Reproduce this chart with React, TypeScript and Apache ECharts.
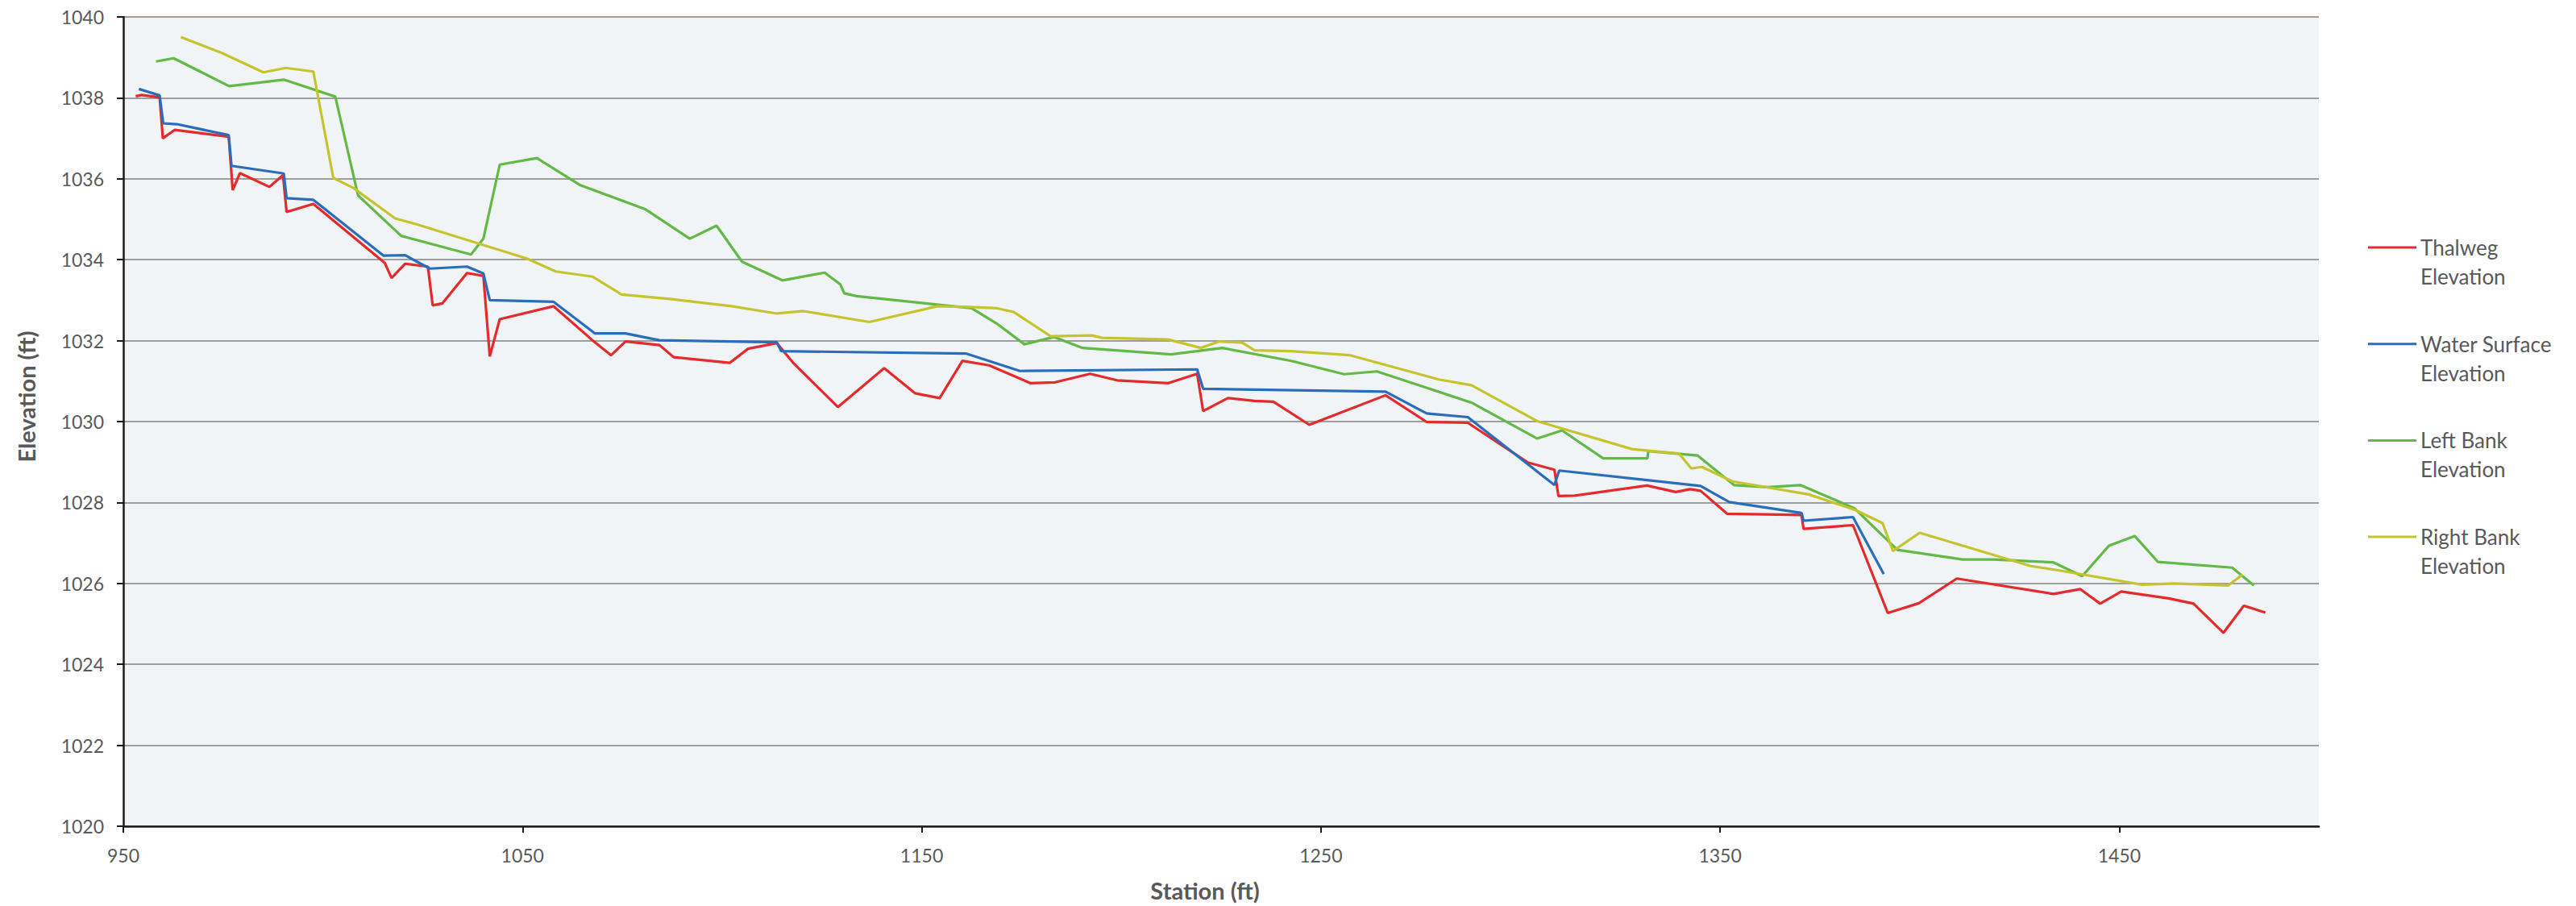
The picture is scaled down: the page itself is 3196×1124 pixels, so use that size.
import React, { useEffect, useRef } from "react";
import * as echarts from "echarts";

const xTickValues = [950, 1050, 1150, 1250, 1350, 1450];
const yTickValues = [1020, 1022, 1024, 1026, 1028, 1030, 1032, 1034, 1036, 1038, 1040];

const seriesNames = [
  "Thalweg Elevation",
  "Water Surface Elevation",
  "Left Bank Elevation",
  "Right Bank Elevation",
];
const legendLabels = [
  "Thalweg\nElevation",
  "Water Surface\nElevation",
  "Left Bank\nElevation",
  "Right Bank\nElevation",
];
const seriesColors = ["#E42A2A", "#2A6EBB", "#62B946", "#C6C42E"];

const thalwegStation = [953.1, 954.6, 959.1, 959.9, 962.9, 976.4, 977.4, 979.2, 986.6, 990.0, 990.9, 997.6, 1015.5, 1017.2, 1020.6, 1026.3, 1027.5, 1029.9, 1036.1, 1040.2, 1041.8, 1044.3, 1057.8, 1068.1, 1072.2, 1075.8, 1084.3, 1087.9, 1101.9, 1106.5, 1113.7, 1118.0, 1129.0, 1140.6, 1148.3, 1154.5, 1160.2, 1166.9, 1177.2, 1183.4, 1192.2, 1198.9, 1211.8, 1219.0, 1220.5, 1226.7, 1233.4, 1238.1, 1247.1, 1266.2, 1276.5, 1286.8, 1301.8, 1308.5, 1309.5, 1313.6, 1331.7, 1338.9, 1342.5, 1345.1, 1351.8, 1370.4, 1370.9, 1383.3, 1392.0, 1399.8, 1409.3, 1433.5, 1440.2, 1445.2, 1450.5, 1462.4, 1468.6, 1476.1, 1481.2, 1486.6];
const thalwegElev = [1038.04, 1038.07, 1038.01, 1037.0, 1037.21, 1037.04, 1035.72, 1036.14, 1035.8, 1036.09, 1035.18, 1035.38, 1033.92, 1033.55, 1033.9, 1033.83, 1032.87, 1032.92, 1033.67, 1033.6, 1031.61, 1032.53, 1032.85, 1031.96, 1031.64, 1031.98, 1031.89, 1031.59, 1031.45, 1031.8, 1031.94, 1031.43, 1030.36, 1031.32, 1030.7, 1030.58, 1031.5, 1031.39, 1030.95, 1030.97, 1031.18, 1031.02, 1030.95, 1031.18, 1030.26, 1030.58, 1030.51, 1030.49, 1029.92, 1030.65, 1029.99, 1029.97, 1028.99, 1028.81, 1028.16, 1028.17, 1028.42, 1028.26, 1028.33, 1028.29, 1027.72, 1027.69, 1027.35, 1027.44, 1025.27, 1025.51, 1026.12, 1025.74, 1025.86, 1025.5, 1025.8, 1025.63, 1025.5, 1024.78, 1025.45, 1025.28];

const waterStation = [953.9, 959.1, 960.0, 963.4, 976.4, 977.1, 990.2, 990.9, 997.6, 1015.2, 1020.6, 1026.8, 1036.1, 1040.2, 1041.8, 1057.8, 1068.1, 1075.8, 1084.3, 1113.7, 1114.8, 1161.2, 1174.6, 1219.0, 1220.5, 1266.2, 1276.5, 1286.8, 1308.5, 1309.7, 1345.1, 1352.3, 1370.4, 1370.9, 1383.3, 1391.0];
const waterElev = [1038.22, 1038.06, 1037.37, 1037.35, 1037.08, 1036.32, 1036.13, 1035.52, 1035.48, 1034.1, 1034.11, 1033.78, 1033.83, 1033.66, 1033.0, 1032.96, 1032.18, 1032.18, 1032.01, 1031.96, 1031.74, 1031.68, 1031.25, 1031.29, 1030.81, 1030.74, 1030.2, 1030.11, 1028.43, 1028.79, 1028.41, 1028.01, 1027.74, 1027.55, 1027.64, 1026.23];

const leftBankStation = [958.2, 962.6, 976.5, 990.2, 1003.1, 1008.8, 1019.6, 1037.1, 1040.2, 1044.3, 1053.6, 1064.5, 1080.7, 1091.9, 1098.6, 1105.0, 1115.1, 1125.7, 1129.6, 1130.6, 1133.7, 1162.5, 1168.7, 1175.7, 1183.1, 1190.3, 1212.5, 1225.3, 1242.6, 1255.8, 1264.0, 1287.7, 1304.2, 1310.4, 1320.7, 1331.8, 1332.0, 1344.4, 1353.5, 1361.9, 1370.1, 1383.6, 1394.4, 1410.8, 1418.5, 1433.5, 1440.7, 1447.4, 1453.9, 1459.7, 1478.3, 1483.7];
const leftBankElev = [1038.9, 1038.98, 1038.29, 1038.45, 1038.03, 1035.59, 1034.59, 1034.13, 1034.52, 1036.35, 1036.51, 1035.84, 1035.25, 1034.52, 1034.84, 1033.95, 1033.49, 1033.68, 1033.39, 1033.17, 1033.1, 1032.8, 1032.43, 1031.91, 1032.09, 1031.82, 1031.66, 1031.82, 1031.5, 1031.17, 1031.24, 1030.47, 1029.58, 1029.78, 1029.09, 1029.09, 1029.27, 1029.16, 1028.43, 1028.38, 1028.43, 1027.86, 1026.83, 1026.59, 1026.59, 1026.52, 1026.18, 1026.93, 1027.17, 1026.53, 1026.39, 1025.95];

const rightBankStation = [964.4, 974.7, 985.1, 990.7, 997.6, 1002.6, 1007.7, 1018.1, 1023.3, 1051.1, 1058.3, 1067.6, 1074.8, 1086.9, 1102.4, 1113.7, 1120.4, 1136.9, 1154.0, 1162.2, 1168.9, 1173.0, 1182.3, 1192.6, 1195.2, 1211.7, 1219.9, 1224.6, 1230.3, 1233.4, 1242.4, 1257.3, 1279.5, 1287.7, 1304.2, 1327.9, 1339.7, 1342.8, 1345.4, 1353.1, 1372.2, 1384.0, 1390.7, 1393.3, 1400.0, 1427.8, 1435.0, 1455.7, 1463.9, 1477.3, 1480.9];
const rightBankElev = [1039.5, 1039.11, 1038.63, 1038.74, 1038.65, 1036.02, 1035.77, 1035.02, 1034.88, 1034.03, 1033.71, 1033.58, 1033.14, 1033.03, 1032.85, 1032.67, 1032.73, 1032.46, 1032.85, 1032.83, 1032.8, 1032.71, 1032.11, 1032.13, 1032.07, 1032.03, 1031.82, 1031.98, 1031.95, 1031.76, 1031.74, 1031.64, 1031.04, 1030.9, 1030.01, 1029.32, 1029.21, 1028.84, 1028.88, 1028.52, 1028.2, 1027.81, 1027.49, 1026.8, 1027.25, 1026.43, 1026.32, 1025.97, 1026.0, 1025.95, 1026.22];

const stations = [thalwegStation, waterStation, leftBankStation, rightBankStation];
const elevations = [thalwegElev, waterElev, leftBankElev, rightBankElev];

const FONT = "Lato, 'Open Sans', sans-serif";
const TEXT_COLOR = "#595959";

export default function App() {
  const ref = useRef<HTMLDivElement>(null);

  useEffect(() => {
    if (!ref.current) return;
    const chart = echarts.init(ref.current, null, { renderer: "svg" });

    const series = seriesNames.map((name, i) => ({
      name,
      type: "line",
      data: stations[i].map((s, k) => [s, elevations[i][k]]),
      showSymbol: false,
      symbol: "none",
      lineStyle: { color: seriesColors[i], width: 3.2 },
      itemStyle: { color: seriesColors[i] },
      z: 3,
    }));

    const legendGraphics: any[] = [];
    legendLabels.forEach((label, i) => {
      const y0 = 307 + i * 119.7;
      legendGraphics.push({
        type: "line",
        shape: { x1: 2938, y1: y0, x2: 2998, y2: y0 },
        style: { stroke: seriesColors[i], lineWidth: 3 },
      });
      legendGraphics.push({
        type: "text",
        x: 3003,
        y: y0 - 18,
        style: {
          text: label,
          fill: TEXT_COLOR,
          font: `26px ${FONT}`,
          lineHeight: 36,
          textAlign: "left",
          textVerticalAlign: "top",
        },
      });
    });

    chart.setOption({
      animation: false,
      backgroundColor: "#ffffff",
      textStyle: { fontFamily: FONT },
      grid: {
        left: 153,
        top: 21,
        width: 2724,
        height: 1004,
        show: true,
        backgroundColor: "#F1F4F7",
        borderWidth: 0,
      },
      xAxis: {
        type: "value",
        min: 950,
        max: 1500,
        axisLine: { show: true, onZero: false, lineStyle: { color: "#1a1a1a", width: 2.5 } },
        axisTick: {
          show: true,
          customValues: xTickValues,
          length: 8,
          lineStyle: { color: "#1a1a1a", width: 2 },
        },
        axisLabel: {
          customValues: xTickValues,
          color: TEXT_COLOR,
          fontSize: 23,
          fontFamily: FONT,
          margin: 24,
          formatter: (v: number) => String(v),
        },
        splitLine: { show: false },
      },
      yAxis: {
        type: "value",
        min: 1020,
        max: 1040,
        interval: 2,
        axisLine: { show: true, lineStyle: { color: "#1a1a1a", width: 2.5 } },
        axisTick: { show: true, length: 8, lineStyle: { color: "#1a1a1a", width: 2 } },
        axisLabel: {
          color: TEXT_COLOR,
          fontSize: 23,
          fontFamily: FONT,
          margin: 24,
          formatter: (v: number) => (yTickValues.includes(v) ? String(v) : ""),
        },
        splitLine: { show: true, lineStyle: { color: "#9E9E9E", width: 2 } },
      },
      graphic: [
        {
          type: "text",
          x: 32,
          y: 492,
          rotation: Math.PI / 2,
          style: {
            text: "Elevation (ft)",
            fill: TEXT_COLOR,
            font: `bold 29px ${FONT}`,
            textAlign: "center",
            textVerticalAlign: "middle",
          },
        },
        {
          type: "text",
          x: 1495,
          y: 1104,
          style: {
            text: "Station (ft)",
            fill: TEXT_COLOR,
            font: `bold 29px ${FONT}`,
            textAlign: "center",
            textVerticalAlign: "middle",
          },
        },
        ...legendGraphics,
      ],
      series,
    });

    return () => chart.dispose();
  }, []);

  return (
    <div
      ref={ref}
      style={{ position: "fixed", left: 0, top: 0, width: 3196, height: 1124 }}
    />
  );
}
